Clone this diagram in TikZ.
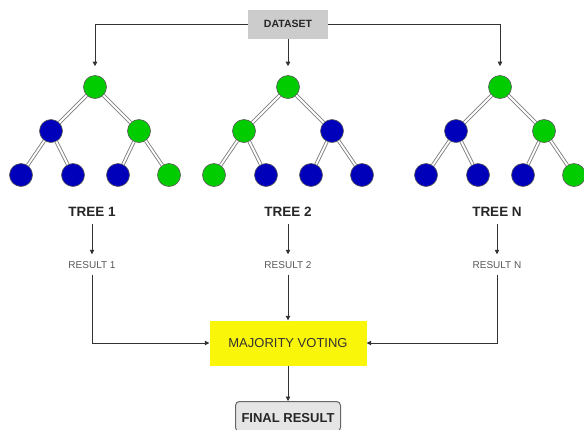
\documentclass[tikz,border=0pt]{standalone}
\usepackage{fontspec}
\setmainfont{Liberation Sans}
\usetikzlibrary{arrows.meta}
\definecolor{gn}{HTML}{00CC00}
\definecolor{bl}{HTML}{0000BB}
\definecolor{conn}{HTML}{333333}
\newcommand\mytree[9]{%
  \node[tn,fill=#3] (#1r) at (#2,87) {};
  \node[tn,fill=#4] (#1a) at (#2-44,131) {};
  \node[tn,fill=#5] (#1b) at (#2+44,131) {};
  \node[tn,fill=#6] (#1c) at (#2-74,175) {};
  \node[tn,fill=#7] (#1d) at (#2-22,175) {};
  \node[tn,fill=#8] (#1e) at (#2+23,175) {};
  \node[tn,fill=#9] (#1f) at (#2+74,175) {};
  \draw[tedge] (#1r) -- (#1a);
  \draw[tedge] (#1r) -- (#1b);
  \draw[tedge] (#1a) -- (#1c);
  \draw[tedge] (#1a) -- (#1d);
  \draw[tedge] (#1b) -- (#1e);
  \draw[tedge] (#1b) -- (#1f);
}
\begin{document}
\begin{tikzpicture}[x=1pt,y=-1pt,
  tn/.style={circle,draw=black!65,line width=0.6pt,minimum size=23pt,inner sep=0pt},
  tedge/.style={draw=black!50,double=white,double distance=1.8pt,line width=0.9pt},
  cn/.style={draw=conn,line width=0.8pt},
  ar/.style={cn,-{Triangle[width=4.5pt,length=4.5pt]}},
  tlabel/.style={font=\fontsize{13.5}{15}\selectfont\bfseries,text=black!85,inner sep=2pt},
  rlabel/.style={font=\fontsize{10}{12}\selectfont,text=black!65,inner sep=2pt}]
\useasboundingbox (0,0) rectangle (584,429);
\clip (0,0) rectangle (584,429);
\fill[white] (0,0) rectangle (584,429);

\node[fill=black!20,minimum width=80pt,minimum height=29pt,inner sep=0pt,
      font=\fontsize{10.5}{12}\selectfont\bfseries,text=black!85] (ds) at (288,24) {DATASET};

\mytree{p}{95}{gn}{bl}{gn}{bl}{bl}{bl}{gn}
\mytree{q}{288}{gn}{gn}{bl}{gn}{bl}{bl}{bl}
\mytree{s}{500}{gn}{bl}{gn}{bl}{bl}{bl}{gn}

\draw[ar,shorten >=9pt] (ds.west) -| (pr.north);
\draw[ar,shorten >=9pt] (ds.south) -- (qr.north);
\draw[ar,shorten >=9pt] (ds.east) -| (sr.north);

\node[tlabel] (l1) at (92,212) {TREE 1};
\node[tlabel] (l2) at (288,212) {TREE 2};
\node[tlabel] (l3) at (497,212) {TREE N};

\node[rlabel] (r1) at (92,265) {RESULT 1};
\node[rlabel] (r2) at (288,265) {RESULT 2};
\node[rlabel] (r3) at (497,265) {RESULT N};

\draw[ar,shorten <=5pt,shorten >=5pt] (l1.south) -- (r1.north);
\draw[ar,shorten <=5pt,shorten >=5pt] (l2.south) -- (r2.north);
\draw[ar,shorten <=5pt,shorten >=5pt] (l3.south) -- (r3.north);

\node[fill={rgb,255:red,250;green,246;blue,10},minimum width=157pt,minimum height=45pt,inner sep=0pt,
      font=\fontsize{13}{15}\selectfont,text=black!80] (mv) at (288,343) {MAJORITY VOTING};

\draw[ar,shorten <=4pt] (r1.south) |- (mv.west);
\draw[ar,shorten <=4pt] (r2.south) -- (mv.north);
\draw[ar,shorten <=4pt] (r3.south) |- (mv.east);

\node[draw=black!60,fill=black!10,line width=1pt,rounded corners=4pt,minimum width=105pt,minimum height=30pt,
      anchor=north,inner sep=0pt,text depth=0pt,font=\fontsize{13}{15}\selectfont\bfseries,text=black!85] (fr) at (288,401) {\raisebox{-3pt}{FINAL RESULT}};
\draw[ar] (mv.south) -- (fr.north);
\end{tikzpicture}
\end{document}
